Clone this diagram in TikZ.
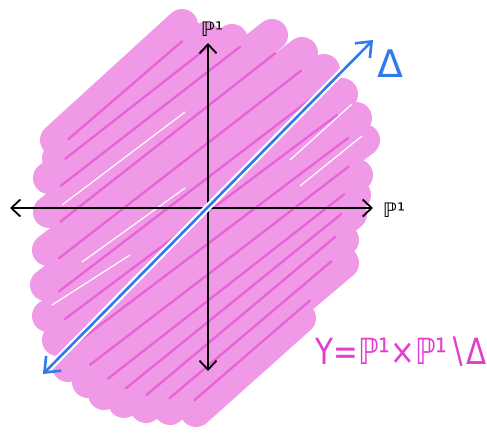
\documentclass[tikz,border=0pt]{standalone}
\usepackage{fontspec}
\usepackage{graphicx}
\newfontfamily\dv{DejaVu Sans}
\usetikzlibrary{arrows.meta,calc}
\definecolor{pinklight}{RGB}{240,153,230}
\definecolor{pinkdark}{RGB}{232,98,218}
\definecolor{bluel}{RGB}{47,122,236}
\definecolor{magtext}{RGB}{226,62,206}
\begin{document}
\begin{tikzpicture}[x=1pt,y=-1pt,
  pinkstroke/.style={line width=32pt, line cap=round, draw=pinklight},
  darkseam/.style={line width=2.3pt, line cap=round, draw=pinkdark, shorten <=15pt, shorten >=15pt},
  whiteseam/.style={line width=1.2pt, line cap=round, draw=white},
  axisline/.style={line width=1.8pt, draw=black, line cap=round, line join=round},
  diagline/.style={line width=2.6pt, draw=bluel, line cap=round, line join=round},
  blackhead/.tip={Straight Barb[length=9pt,width=17pt]},
  bluehead/.tip={Straight Barb[length=13pt,width=21pt]},
  lab/.style={inner sep=0pt, font=\dv\fontsize{20}{20}\selectfont}]
\useasboundingbox (0,0) rectangle (487,433);
\fill[white] (0,0) rectangle (487,433);
% stroke end points
\coordinate (L1) at (56,140);  \coordinate (R1) at (182,25);
\coordinate (L2) at (58,158);  \coordinate (R2) at (205,38);
\coordinate (L3) at (49,178);  \coordinate (R3) at (232,40);
\coordinate (L4) at (49,212);  \coordinate (R4) at (272,35);
\coordinate (L5) at (48,250);  \coordinate (R5) at (302,53);
\coordinate (L6) at (46,285);  \coordinate (R6) at (324,70);
\coordinate (L7) at (48,316);  \coordinate (R7) at (342,94);
\coordinate (L8) at (58,340);  \coordinate (R8) at (356,118);
\coordinate (L9) at (68,366);  \coordinate (R9) at (364,140);
\coordinate (L10) at (88,382); \coordinate (R10) at (357,175);
\coordinate (L11) at (104,394); \coordinate (R11) at (355,195);
\coordinate (L12) at (124,402); \coordinate (R12) at (351,214);
\coordinate (L13) at (146,407); \coordinate (R13) at (343,240);
\coordinate (L14) at (170,409); \coordinate (R14) at (343,263);
\coordinate (L15) at (196,411); \coordinate (R15) at (300,318);
% pink strokes
\foreach \k in {1,...,15} { \draw[pinkstroke] (L\k) -- (R\k); }
% darker seams where strokes overlap
\foreach \a/\b in {1/2,2/3,3/4,4/5,5/6,6/7,7/8,8/9,9/10,10/11,11/12,12/13,13/14,14/15}
  { \draw[darkseam] ($(L\a)!0.5!(L\b)$) -- ($(R\a)!0.5!(R\b)$); }
% thin white gaps between some strokes
\draw[whiteseam] (62,205) -- (185,112);
\draw[whiteseam] (82,262) -- (185,188);
\draw[whiteseam] (52,305) -- (130,255);
\draw[whiteseam] (290,160) -- (352,104);
\draw[whiteseam] (300,186) -- (362,136);
% axis and diagonal end points
\coordinate (O) at (207,208);
\coordinate (xl) at (10,208);
\coordinate (xr) at (373,208);
\coordinate (yt) at (208,43);
\coordinate (yb) at (208,371);
\coordinate (dl) at (43,374);
\coordinate (dr) at (373,40);
% axes
\draw[axisline, {blackhead}-{blackhead}] (xl) -- (xr);
\draw[axisline, {blackhead}-{blackhead}] (yb) -- (yt);
% diagonal
\draw[white, line width=7pt] (dl) -- (dr);
\draw[diagline, {bluehead}-{bluehead}] (dl) -- (dr);
% labels
\node[lab] (ptop) at (212,29) {ℙ¹};
\node[lab] (pright) at (394,210) {ℙ¹};
\node[inner sep=0pt, text=bluel, font=\dv\fontsize{38}{38}\selectfont] (delta) at (390,64) {Δ};
\node[inner sep=0pt, text=magtext, font=\dv\fontsize{36}{36}\selectfont] (eq) at (401,352) {\scalebox{0.82}[1]{Y=ℙ¹×ℙ¹∖Δ}};
\end{tikzpicture}
\end{document}
